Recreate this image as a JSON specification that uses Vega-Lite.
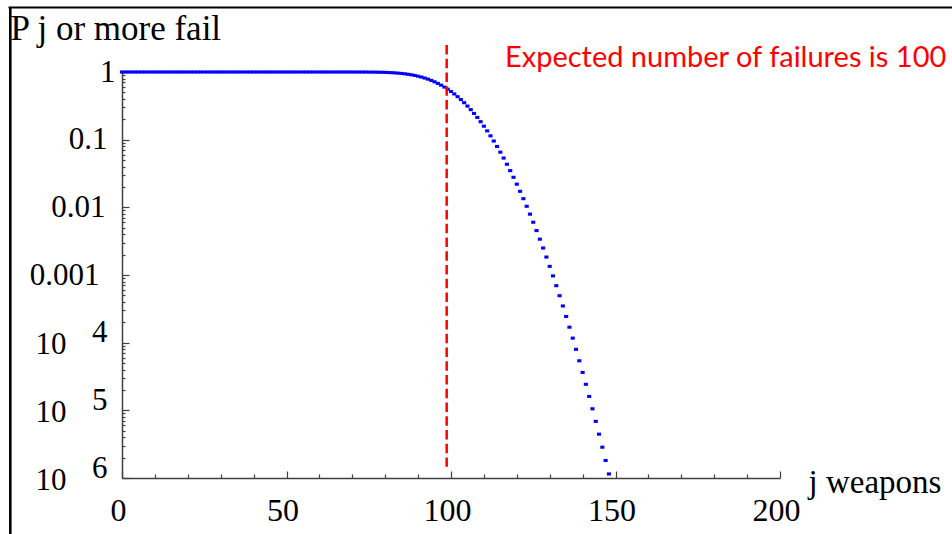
{
  "$schema": "https://vega.github.io/schema/vega-lite/v6.json",
  "width": 658,
  "height": 406,
  "autosize": "none",
  "padding": {"left": 122, "top": 72, "right": 172, "bottom": 56},
  "background": "white",
  "config": {"view": {"stroke": null}, "axis": {"grid": false}},
  "data": {"values": [
    {"j":0,"p":1},{"j":1,"p":1},{"j":2,"p":1},{"j":3,"p":1},{"j":4,"p":1},{"j":5,"p":1},{"j":6,"p":1},{"j":7,"p":1},{"j":8,"p":1},{"j":9,"p":1},
    {"j":10,"p":1},{"j":11,"p":1},{"j":12,"p":1},{"j":13,"p":1},{"j":14,"p":1},{"j":15,"p":1},{"j":16,"p":1},{"j":17,"p":1},{"j":18,"p":1},{"j":19,"p":1},
    {"j":20,"p":1},{"j":21,"p":1},{"j":22,"p":1},{"j":23,"p":1},{"j":24,"p":1},{"j":25,"p":1},{"j":26,"p":1},{"j":27,"p":1},{"j":28,"p":1},{"j":29,"p":1},
    {"j":30,"p":1},{"j":31,"p":1},{"j":32,"p":1},{"j":33,"p":1},{"j":34,"p":1},{"j":35,"p":1},{"j":36,"p":1},{"j":37,"p":1},{"j":38,"p":1},{"j":39,"p":1},
    {"j":40,"p":1},{"j":41,"p":1},{"j":42,"p":1},{"j":43,"p":1},{"j":44,"p":1},{"j":45,"p":1},{"j":46,"p":1},{"j":47,"p":1},{"j":48,"p":1},{"j":49,"p":1},
    {"j":50,"p":1},{"j":51,"p":1},{"j":52,"p":1},{"j":53,"p":1},{"j":54,"p":1},{"j":55,"p":1},{"j":56,"p":1},{"j":57,"p":1},{"j":58,"p":1},{"j":59,"p":1},
    {"j":60,"p":1},{"j":61,"p":1},{"j":62,"p":1},{"j":63,"p":1},{"j":64,"p":0.99998},{"j":65,"p":0.99996},{"j":66,"p":0.99994},{"j":67,"p":0.9999},{"j":68,"p":0.99984},{"j":69,"p":0.99975},
    {"j":70,"p":0.99962},{"j":71,"p":0.99942},{"j":72,"p":0.99914},{"j":73,"p":0.99873},{"j":74,"p":0.99815},{"j":75,"p":0.99734},{"j":76,"p":0.99624},{"j":77,"p":0.99474},{"j":78,"p":0.99275},{"j":79,"p":0.99013},
    {"j":80,"p":0.98673},{"j":81,"p":0.98238},{"j":82,"p":0.9769},{"j":83,"p":0.97007},{"j":84,"p":0.96167},{"j":85,"p":0.95149},{"j":86,"p":0.9393},{"j":87,"p":0.92488},{"j":88,"p":0.90806},{"j":89,"p":0.88866},
    {"j":90,"p":0.86658},{"j":91,"p":0.84174},{"j":92,"p":0.81415},{"j":93,"p":0.78385},{"j":94,"p":0.75099},{"j":95,"p":0.71576},{"j":96,"p":0.67842},{"j":97,"p":0.63931},{"j":98,"p":0.59881},{"j":99,"p":0.55735},
    {"j":100,"p":0.51546},{"j":101,"p":0.47344},{"j":102,"p":0.43184},{"j":103,"p":0.3911},{"j":104,"p":0.35163},{"j":105,"p":0.31381},{"j":106,"p":0.27794},{"j":107,"p":0.2443},{"j":108,"p":0.21306},{"j":109,"p":0.18437},
    {"j":110,"p":0.15827},{"j":111,"p":0.13479},{"j":112,"p":0.11387},{"j":113,"p":0.095416},{"j":114,"p":0.079305},{"j":115,"p":0.065377},{"j":116,"p":0.053454},{"j":117,"p":0.043347},{"j":118,"p":0.034863},{"j":119,"p":0.027808},
    {"j":120,"p":0.021998},{"j":121,"p":0.017259},{"j":122,"p":0.013429},{"j":123,"p":0.010363},{"j":124,"p":0.0079313},{"j":125,"p":0.0060204},{"j":126,"p":0.0045324},{"j":127,"p":0.0033843},{"j":128,"p":0.0025064},{"j":129,"p":0.0018412},
    {"j":130,"p":0.0013415},{"j":131,"p":0.0009695},{"j":132,"p":0.00069501},{"j":133,"p":0.00049423},{"j":134,"p":0.00034863},{"j":135,"p":0.00024396},{"j":136,"p":0.00016935},{"j":137,"p":0.00011663},{"j":138,"p":0.000079687},{"j":139,"p":0.000054016},
    {"j":140,"p":0.000036327},{"j":141,"p":0.00002424},{"j":142,"p":0.000016048},{"j":143,"p":0.000010542},{"j":144,"p":0.0000068719},{"j":145,"p":0.0000044447},{"j":146,"p":0.0000028526},{"j":147,"p":0.0000018166},{"j":148,"p":0.0000011479}
  ]},
  "resolve": {"axis": {"x": "independent", "y": "independent"}},
  "layer": [
    {
      "mark": {"type": "point", "shape": "M-1,-0.75H1V0.75H-1Z", "filled": true, "size": 17, "color": "#0000ff", "opacity": 1, "strokeWidth": 0, "clip": false},
      "encoding": {
        "x": {
          "field": "j", "type": "quantitative",
          "scale": {"domain": [0, 200], "nice": false, "zero": false},
          "axis": {
            "orient": "bottom",
            "values": [0,10,20,30,40,50,60,70,80,90,100,110,120,130,140,150,160,170,180,190,200],
            "labelExpr": "datum.value % 50 === 0 ? datum.label : ''",
            "labelFont": "Liberation Serif", "labelFontSize": 32, "labelColor": "black",
            "labelBaseline": "alphabetic", "labelPadding": 49, "labelOffset": -4,
            "labelFlush": false, "labelOverlap": false,
            "tickSize": {"condition": {"test": "datum.value % 50 === 0", "value": -7}, "value": -4},
            "tickColor": "#404040", "tickWidth": 1.2,
            "domainColor": "#404040", "domainWidth": 1.5,
            "grid": false,
            "title": "j weapons",
            "titleFont": "Liberation Serif", "titleFontSize": 33, "titleFontWeight": "normal", "titleColor": "black",
            "titleX": 686, "titleY": 14, "titleAlign": "left", "titleBaseline": "alphabetic", "titleAngle": 0
          }
        },
        "y": {
          "field": "p", "type": "quantitative",
          "scale": {"type": "log", "domain": [0.000001, 1], "nice": false},
          "axis": {
            "orient": "left",
            "values": [1,0.9,0.8,0.7,0.6,0.5,0.4,0.3,0.2,0.1,0.09,0.08,0.07,0.06,0.05,0.04,0.03,0.02,0.01,0.009,0.008,0.007,0.006,0.005,0.004,0.003,0.002,0.001,0.0009,0.0008,0.0007,0.0006,0.0005,0.0004,0.0003,0.0002,0.0001,0.00009,0.00008,0.00007,0.00006,0.00005,0.00004,0.00003,0.00002,0.00001,0.000009,0.000008,0.000007,0.000006,0.000005,0.000004,0.000003,0.000002,0.000001],
            "labelExpr": "datum.value == 1 ? '1' : datum.value == 0.1 ? '0.1' : datum.value == 0.01 ? '0.01' : datum.value == 0.001 ? '0.001' : (datum.value == 0.0001 || datum.value == 0.00001 || datum.value == 0.000001) ? '10' : ''",
            "labelFont": "Liberation Serif", "labelFontSize": 31, "labelColor": "black",
            "labelFlush": false, "labelOverlap": false,
            "labelPadding": {"condition": [
              {"test": "datum.value == 1", "value": 14},
              {"test": "datum.value == 0.1", "value": 22},
              {"test": "datum.value == 0.01", "value": 24},
              {"test": "datum.value == 0.001", "value": 30}
            ], "value": 63},
            "labelOffset": {"condition": {"test": "datum.value < 0.0005", "value": 2}, "value": 0},
            "tickSize": {"condition": {"test": "datum.value == 1 || datum.value == 0.1 || datum.value == 0.01 || datum.value == 0.001 || datum.value == 0.0001 || datum.value == 0.00001 || datum.value == 0.000001", "value": -7}, "value": -3},
            "tickColor": "#404040", "tickWidth": 1.2,
            "domainColor": "#404040", "domainWidth": 1.5,
            "grid": false,
            "title": "P j or more fail",
            "titleFont": "Liberation Serif", "titleFontSize": 35, "titleFontWeight": "normal", "titleColor": "black",
            "titleX": -112, "titleY": -32.7, "titleAlign": "left", "titleBaseline": "alphabetic", "titleAngle": 0
          }
        }
      }
    },
    {
      "data": {"values": [{}]},
      "mark": {"type": "rule", "color": "#ff0000", "strokeWidth": 2.5, "strokeDash": [9.5, 4.25], "clip": false},
      "encoding": {
        "x": {"datum": 98.69, "type": "quantitative", "axis": null},
        "y": {"datum": 2.506, "type": "quantitative", "axis": null},
        "y2": {"datum": 0.00000147}
      }
    },
    {
      "data": {"values": [{}]},
      "mark": {"type": "text", "text": "Expected number of failures is 100", "font": "Lato", "fontSize": 29, "color": "#ff0000", "align": "left", "baseline": "alphabetic", "clip": false},
      "encoding": {
        "x": {"datum": 116.4, "type": "quantitative", "axis": null},
        "y": {
          "datum": 1.198, "type": "quantitative",
          "scale": {"type": "log", "domain": [0.000001, 1], "nice": false},
          "axis": {
            "orient": "left",
            "values": [0.0001, 0.00001, 0.000001],
            "labelExpr": "datum.value == 0.0001 ? '4' : datum.value == 0.00001 ? '5' : '6'",
            "ticks": false, "domain": false, "grid": false,
            "labelPadding": 15, "labelOffset": -10,
            "labelFont": "Liberation Serif", "labelFontSize": 31, "labelColor": "black",
            "labelFlush": false, "labelOverlap": false,
            "title": null
          }
        }
      }
    },
    {
      "data": {"values": [{}]},
      "mark": {"type": "rule", "color": "black", "strokeWidth": 2, "clip": false},
      "encoding": {
        "x": {"datum": -34.5, "type": "quantitative", "axis": null},
        "x2": {"datum": 262},
        "y": {"datum": 8.98, "type": "quantitative", "axis": null}
      }
    },
    {
      "data": {"values": [{}]},
      "mark": {"type": "rule", "color": "black", "strokeWidth": 2.6, "clip": false},
      "encoding": {
        "x": {"datum": -33.95, "type": "quantitative", "axis": null},
        "y": {"datum": 8.98, "type": "quantitative", "axis": null},
        "y2": {"datum": 0.0000001}
      }
    }
  ]
}
